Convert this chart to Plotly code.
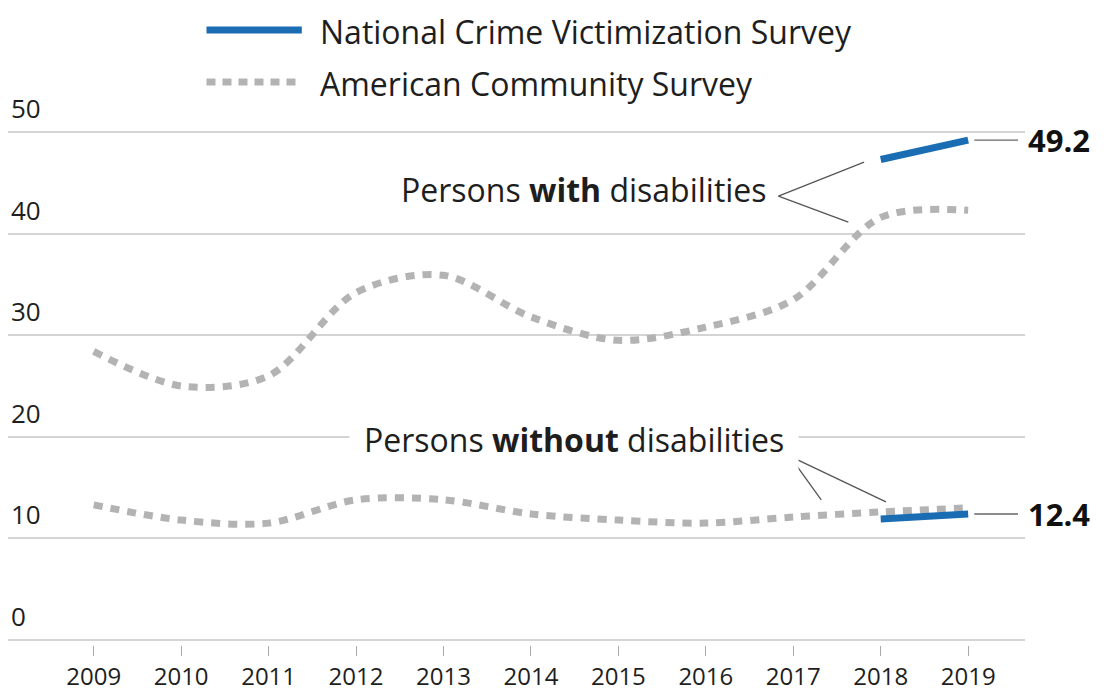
import plotly.graph_objects as go

years = [2009, 2010, 2011, 2012, 2013, 2014, 2015, 2016, 2017, 2018, 2019]
acs_with = [28.4, 25.0, 26.0, 34.2, 35.9, 31.8, 29.5, 30.8, 33.5, 41.6, 42.3]
acs_without = [13.3, 11.8, 11.5, 13.8, 13.8, 12.4, 11.8, 11.5, 12.1, 12.6, 13.0]
ncvs_years = [2018, 2019]
ncvs_with = [47.3, 49.2]
ncvs_without = [11.9, 12.4]
y_ticks = [0, 10, 20, 30, 40, 50]
x_ticks = years
series_names = ["National Crime Victimization Survey", "American Community Survey"]

BLUE = "#1a6db3"
GRAY = "#b3b3b3"
TXT = "#1e1e1e"
FONT = "Open Sans"

fig = go.Figure()
dotted = dict(color=GRAY, width=7, dash="9px,8px", shape="spline", smoothing=0.9)
fig.add_trace(go.Scatter(x=years, y=acs_with, mode="lines", line=dotted, name=series_names[1], showlegend=False))
fig.add_trace(go.Scatter(x=years, y=acs_without, mode="lines", line=dotted, name=series_names[1], showlegend=False))
solid = dict(color=BLUE, width=7)
fig.add_trace(go.Scatter(x=ncvs_years, y=ncvs_with, mode="lines", line=solid, name=series_names[0], showlegend=False))
fig.add_trace(go.Scatter(x=ncvs_years, y=ncvs_without, mode="lines", line=solid, name=series_names[0], showlegend=False))

shapes = []
annotations = []

# page body has an 8px margin; figure sized to fit the window
W, H = 1101, 684
plot_top, plot_bot = 119, 637
YMIN, YMAX = -0.5, 50.5

def py_to_paper(py):
    return (plot_bot - py) / (plot_bot - plot_top)

# manual legend (text box top given, line at text middle)
LEG_SIZE = 32
legend_items = [(series_names[0], BLUE, None, 0), (series_names[1], GRAY, "9px,7px", 52)]
for name, col, dash, top in legend_items:
    mid = top + 22
    ln = dict(color=col, width=7)
    if dash:
        ln["dash"] = dash
    shapes.append(dict(type="line", xref="x", yref="paper", x0=2010.29, x1=2011.38,
                       y0=py_to_paper(mid), y1=py_to_paper(mid), line=ln))
    annotations.append(dict(xref="x", yref="paper", x=2011.57, y=py_to_paper(top), text=name, showarrow=False,
                            xanchor="left", yanchor="top", font=dict(family=FONT, size=LEG_SIZE, color=TXT)))

# y tick labels above gridlines
for t in y_ticks:
    annotations.append(dict(xref="paper", x=0, xshift=1, y=t, yshift=4, text=str(t), showarrow=False,
                            xanchor="left", yanchor="bottom", font=dict(family=FONT, size=26, color=TXT)))

# group labels
annotations.append(dict(x=2016.72, y=44.3, text="Persons <b>with</b> disabilities", showarrow=False,
                        xanchor="right", yanchor="middle", font=dict(family=FONT, size=32, color=TXT)))
annotations.append(dict(x=2017.07, y=19.7, text="Persons <b>without</b> disabilities", showarrow=False,
                        xanchor="right", yanchor="middle", bgcolor="white", borderpad=14,
                        font=dict(family=FONT, size=32, color=TXT)))
conn = dict(color="#555555", width=1.3)
for (x0, y0, x1, y1) in [(2016.83, 43.7, 2017.81, 47.05), (2016.83, 43.7, 2017.63, 41.14),
                         (2016.96, 18.1, 2017.32, 13.8), (2016.96, 18.1, 2018.06, 13.6)]:
    shapes.append(dict(type="line", x0=x0, y0=y0, x1=x1, y1=y1, line=conn))

# end value labels
for v in [ncvs_with[-1], ncvs_without[-1]]:
    shapes.append(dict(type="line", x0=2019.07, x1=2019.57, y0=v, y1=v, line=dict(color="#666666", width=1.3)))
    annotations.append(dict(xref="paper", x=1, xshift=1, y=v, text=f"<b>{v}</b>", showarrow=False,
                            xanchor="left", yanchor="middle", font=dict(family=FONT, size=31, color="#111111")))

fig.update_layout(
    width=W, height=H,
    margin=dict(l=0, r=84, t=plot_top, b=H - plot_bot, autoexpand=False),
    paper_bgcolor="white", plot_bgcolor="white",
    showlegend=False,
    shapes=shapes, annotations=annotations,
    xaxis=dict(range=[2008.02, 2019.65], tickvals=x_ticks, ticktext=[str(t) for t in x_ticks],
               showgrid=False, zeroline=False, showline=False, automargin=False,
               ticks="outside", ticklen=10, tickcolor="#aaaaaa", tickwidth=1,
               tickfont=dict(family=FONT, size=24, color=TXT)),
    yaxis=dict(range=[YMIN, YMAX], tickvals=y_ticks, showgrid=True, gridcolor="#d4d4d4", gridwidth=1.5,
               zeroline=False, showline=False, ticks="", showticklabels=False, automargin=False),
)
fig.write_html("out.html")
